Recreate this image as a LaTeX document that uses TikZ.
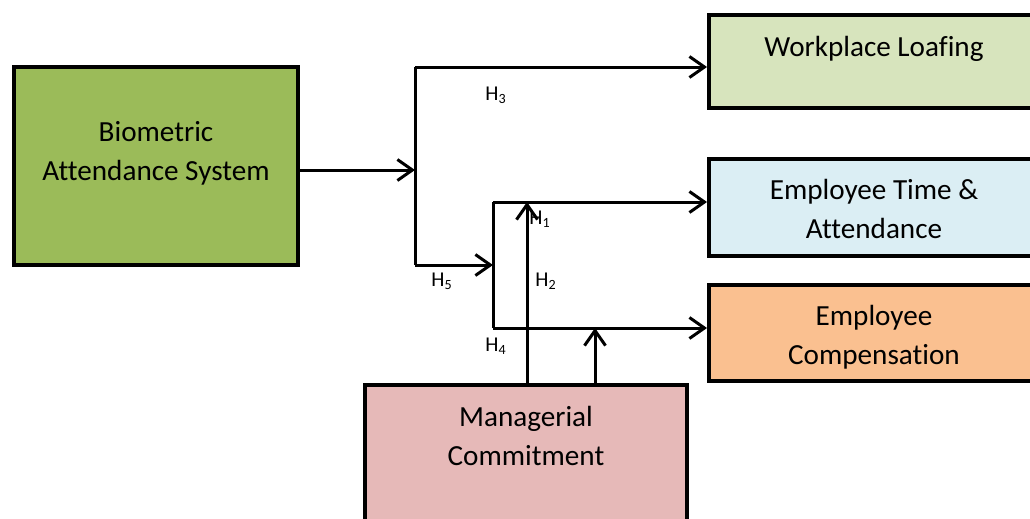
\documentclass[tikz,border=0pt]{standalone}
\usepackage{fontspec}
\setmainfont{Carlito}[Ligatures=NoCommon]
\usetikzlibrary{arrows.meta,positioning}

\definecolor{biogreen}{RGB}{155,187,89}
\definecolor{loafgreen}{RGB}{215,228,189}
\definecolor{timeblue}{RGB}{219,238,244}
\definecolor{payorange}{RGB}{250,192,144}
\definecolor{mgrpink}{RGB}{230,185,184}

\begin{document}
\begin{tikzpicture}
                    [x=0.02cm,y=-0.02cm,>={Straight Barb[length=0.3cm,width=0.42cm]},
                     box/.style={draw,line width=0.08cm,inner sep=0pt},
                     txt/.style={align=center,inner sep=0pt,font=\fontsize{16.6}{22.2}\selectfont},
                     hyp/.style={inner sep=0pt,font=\fontsize{12}{14}\selectfont},
                     link/.style={line width=0.06cm}]

                    \clip (0,0) rectangle (1030,518);

                    \node[box,fill=biogreen,minimum width=5.68cm,minimum height=3.96cm] (bas) at (156,166) {};
                    \node[box,fill=loafgreen,minimum width=6.82cm,minimum height=1.86cm] (wpl) at (879.5,61.5) {};
                    \node[box,fill=timeblue,minimum width=6.82cm,minimum height=1.94cm] (eta) at (879.5,207.5) {};
                    \node[box,fill=payorange,minimum width=6.82cm,minimum height=1.92cm] (ec) at (879.5,333) {};
                    \node[box,fill=mgrpink,minimum width=6.44cm,minimum height=3.5cm] (mc) at (526,472.5) {};

                    \node[txt] (bastxt) at (156,153) {Biometric\\Attendance System};
                    \node[txt] (wpltxt) at (874,49) {Workplace Loafing};
                    \node[txt] (etatxt) at (874,209) {Employee Time \&\\Attendance};
                    \node[txt] (ectxt) at (874,337) {Employee\\Compensation};
                    \node[txt] (mctxt) at (526,436) {Managerial\\Commitment};

                    \coordinate (j) at (415,170);
                    \coordinate (t1) at (415,67);
                    \coordinate (t2) at (415,265);
                    \coordinate (m1) at (493,202);
                    \coordinate (m2) at (493,328);
                    \coordinate (u1) at (527,385);
                    \coordinate (u2) at (595,385);

                    \draw[link,->] (j -| bas.east) -- (j);
                    \draw[link] (t1) -- (t2);
                    \draw[link,->] (t1) -- (t1 -| wpl.west);
                    \draw[link,->] (t2) -- (t2 -| m1);
                    \draw[link] (m1) -- (m2);
                    \draw[link,->] (m1) -- (m1 -| eta.west);
                    \draw[link,->] (m2) -- (m2 -| ec.west);
                    \draw[link,->] (u1) -- (u1 |- m1);
                    \draw[link,->] (u2) -- (u2 |- m2);

                    \node[hyp] (h3) at (496,95) {H\textsubscript{3}};
                    \node[hyp] (h1) at (540,219) {H\textsubscript{1}};
                    \node[hyp] (h5) at (442,281) {H\textsubscript{5}};
                    \node[hyp] (h2) at (546,281) {H\textsubscript{2}};
                    \node[hyp] (h4) at (496,346) {H\textsubscript{4}};
                \end{tikzpicture}
\end{document}
